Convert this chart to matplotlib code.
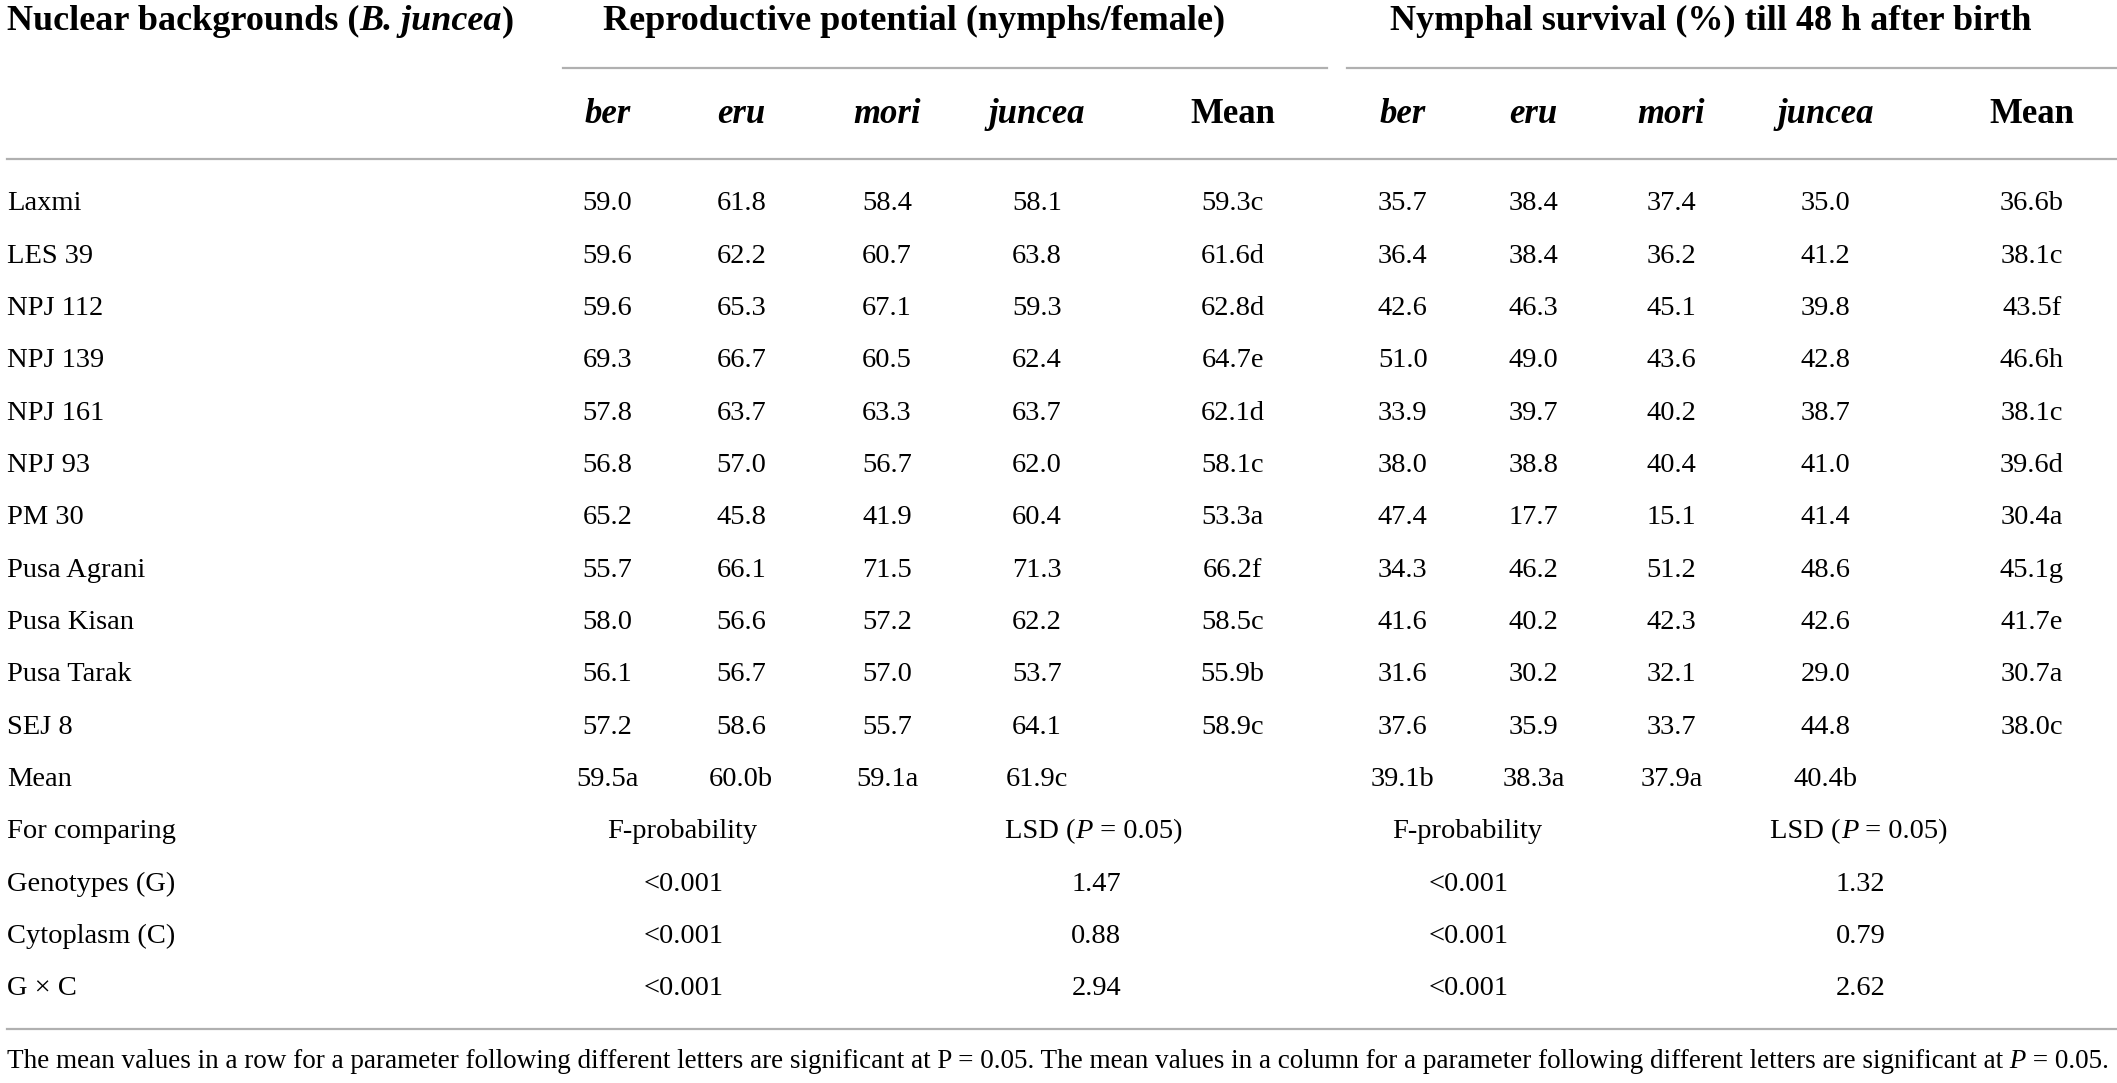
import matplotlib.pyplot as plt

plt.rcParams['font.family'] = ['Liberation Serif', 'DejaVu Serif']

genotypes = ['Laxmi', 'LES 39', 'NPJ 112', 'NPJ 139', 'NPJ 161', 'NPJ 93', 'PM 30',
             'Pusa Agrani', 'Pusa Kisan', 'Pusa Tarak', 'SEJ 8']
cytoplasms = ['ber', 'eru', 'mori', 'juncea']

# reproductive potential (nymphs/female): ber, eru, mori, juncea
rep = [[59.0, 61.8, 58.4, 58.1], [59.6, 62.2, 60.7, 63.8], [59.6, 65.3, 67.1, 59.3],
       [69.3, 66.7, 60.5, 62.4], [57.8, 63.7, 63.3, 63.7], [56.8, 57.0, 56.7, 62.0],
       [65.2, 45.8, 41.9, 60.4], [55.7, 66.1, 71.5, 71.3], [58.0, 56.6, 57.2, 62.2],
       [56.1, 56.7, 57.0, 53.7], [57.2, 58.6, 55.7, 64.1]]
rep_mean = [59.3, 61.6, 62.8, 64.7, 62.1, 58.1, 53.3, 66.2, 58.5, 55.9, 58.9]
rep_mean_let = ['c', 'd', 'd', 'e', 'd', 'c', 'a', 'f', 'c', 'b', 'c']
rep_col_mean = [59.5, 60.0, 59.1, 61.9]
rep_col_let = ['a', 'b', 'a', 'c']

# nymphal survival (%) till 48 h after birth
surv = [[35.7, 38.4, 37.4, 35.0], [36.4, 38.4, 36.2, 41.2], [42.6, 46.3, 45.1, 39.8],
        [51.0, 49.0, 43.6, 42.8], [33.9, 39.7, 40.2, 38.7], [38.0, 38.8, 40.4, 41.0],
        [47.4, 17.7, 15.1, 41.4], [34.3, 46.2, 51.2, 48.6], [41.6, 40.2, 42.3, 42.6],
        [31.6, 30.2, 32.1, 29.0], [37.6, 35.9, 33.7, 44.8]]
surv_mean = [36.6, 38.1, 43.5, 46.6, 38.1, 39.6, 30.4, 45.1, 41.7, 30.7, 38.0]
surv_mean_let = ['b', 'c', 'f', 'h', 'c', 'd', 'a', 'g', 'e', 'a', 'c']
surv_col_mean = [39.1, 38.3, 37.9, 40.4]
surv_col_let = ['b', 'a', 'a', 'b']

stat_rows = ['Genotypes (G)', 'Cytoplasm (C)', 'G × C']
rep_fprob = ['<0.001', '<0.001', '<0.001']
rep_lsd = [1.47, 0.88, 2.94]
surv_fprob = ['<0.001', '<0.001', '<0.001']
surv_lsd = [1.32, 0.79, 2.62]

W, H = 1568, 802
fig = plt.figure(figsize=(21.17, 10.83), dpi=100)
ax = fig.add_axes([0, 0, 1, 1])
ax.set_xlim(0, W)
ax.set_ylim(H, 0)
ax.axis('off')
renderer = fig.canvas.get_renderer()
px2data = W / 2117.0

FS = 20.5    # body
HFS = 26     # group headers
SFS = 25     # column sub-headers
NFS = 19.5   # footnote
line_c = '#b0b0b0'


def rich(x, y, parts, ha='left', size=FS, weight='normal'):
    # parts: list of (text, style) drawn side by side
    arts = []
    widths = []
    for s, st in parts:
        t = ax.text(0, y, s, fontsize=size, fontweight=weight, fontstyle=st,
                    ha='left', va='center')
        widths.append(t.get_window_extent(renderer).width * px2data)
        arts.append(t)
    total = sum(widths)
    x0 = x - total / 2 if ha == 'center' else x
    for t, w in zip(arts, widths):
        t.set_x(x0)
        x0 += w


def txt(x, y, s, ha='center', **kw):
    ax.text(x, y, s, fontsize=kw.pop('size', FS), ha=ha, va='center', **kw)


# header
rich(5, 16, [('Nuclear backgrounds (', 'normal'), ('B. juncea', 'italic'), (')', 'normal')],
     size=HFS, weight='bold')
txt(677, 16, 'Reproductive potential (nymphs/female)', size=HFS, weight='bold')
txt(1267, 16, 'Nymphal survival (%) till 48 h after birth', size=HFS, weight='bold')
ax.plot([417, 983], [50, 50], color=line_c, lw=1.6)
ax.plot([998, W], [50, 50], color=line_c, lw=1.6)

rep_x = [450, 549, 657, 768, 913]
surv_x = [1039, 1136, 1238, 1352, 1505]
for cols in (rep_x, surv_x):
    for c, name in zip(cols, cytoplasms):
        txt(c, 85, name, size=SFS, weight='bold', style='italic')
    txt(cols[4], 85, 'Mean', size=SFS, weight='bold')
ax.plot([5, W], [118, 118], color=line_c, lw=1.6)

row_y = [151 + 38.75 * i for i in range(16)]
for i, g in enumerate(genotypes):
    y = row_y[i]
    txt(5, y, g, ha='left')
    for j in range(4):
        txt(rep_x[j], y, f'{rep[i][j]:.1f}')
        txt(surv_x[j], y, f'{surv[i][j]:.1f}')
    txt(rep_x[4], y, f'{rep_mean[i]:.1f}{rep_mean_let[i]}')
    txt(surv_x[4], y, f'{surv_mean[i]:.1f}{surv_mean_let[i]}')

y = row_y[11]
txt(5, y, 'Mean', ha='left')
for j in range(4):
    txt(rep_x[j], y, f'{rep_col_mean[j]:.1f}{rep_col_let[j]}')
    txt(surv_x[j], y, f'{surv_col_mean[j]:.1f}{surv_col_let[j]}')

y = row_y[12]
txt(5, y, 'For comparing', ha='left')
fp_x = [505, 1087]
lsd_x = [810, 1377]
for k in range(2):
    txt(fp_x[k], y, 'F-probability')
    rich(lsd_x[k], y, [('LSD (', 'normal'), ('P', 'italic'), (' = 0.05)', 'normal')], ha='center')

for i, name in enumerate(stat_rows):
    y = row_y[13 + i]
    txt(5, y, name, ha='left')
    txt(506, y, rep_fprob[i])
    txt(812, y, f'{rep_lsd[i]:.2f}')
    txt(1088, y, surv_fprob[i])
    txt(1378, y, f'{surv_lsd[i]:.2f}')

ax.plot([5, W], [762, 762], color=line_c, lw=1.6)
rich(5, 786, [('The mean values in a row for a parameter following different letters are significant at P = 0.05. '
               'The mean values in a column for a parameter following different letters are significant at', 'normal'),
              (' P', 'italic'), (' = 0.05.', 'normal')], size=NFS)

fig.savefig('out.png', dpi=100)
